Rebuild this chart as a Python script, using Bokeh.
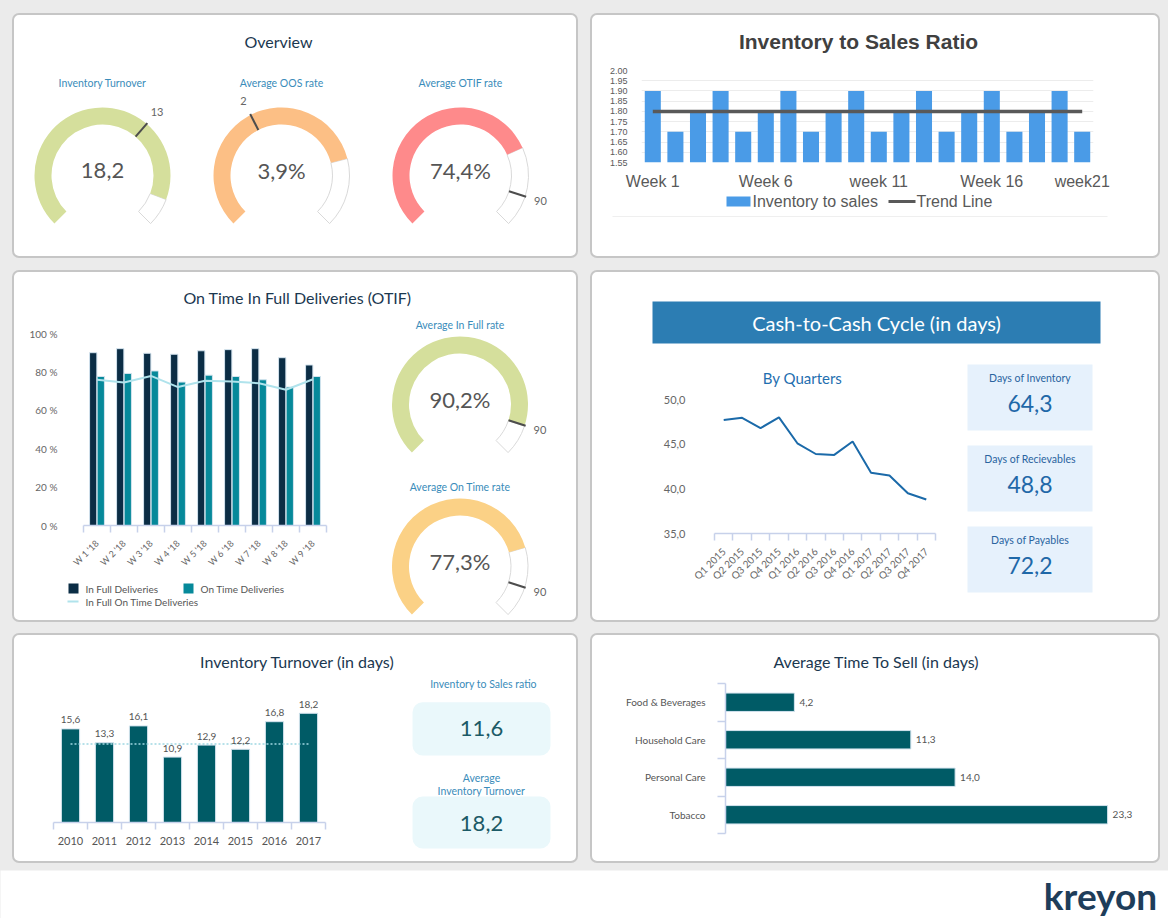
import math
from bokeh.plotting import figure
from bokeh.models import (Range1d, FactorRange, LinearAxis, CategoricalAxis, FixedTicker,
                          ColumnDataSource, Spacer, LabelSet, Grid,
                          NumeralTickFormatter, CustomJSTickFormatter, GlobalInlineStyleSheet)
from bokeh.layouts import row, column
from bokeh.transform import dodge
from bokeh.core.properties import value
from bokeh.embed import file_html
from bokeh.resources import INLINE

# ---------------- data ----------------
overview_titles = ["Inventory Turnover", "Average OOS rate", "Average OTIF rate"]
overview_values = [18.2, 3.9, 74.4]
overview_suffix = ["", "%", "%"]
overview_targets = [13, 2, 90]
overview_max = [20, 5, 100]

weeks = ["Week 1", "Week 2", "Week 3", "Week 4", "Week 5", "Week 6", "Week 7", "Week 8",
         "Week 9", "Week 10", "Week 11", "Week 12", "Week 13", "Week 14", "Week 15",
         "Week 16", "Week 17", "Week 18", "Week 19", "Week 20"]
ratio_values = [1.90, 1.70, 1.80, 1.90, 1.70, 1.80, 1.90, 1.70, 1.80, 1.90,
                1.70, 1.80, 1.90, 1.70, 1.80, 1.90, 1.70, 1.80, 1.90, 1.70]
ratio_trend = [1.80, 1.80, 1.80, 1.80, 1.80, 1.80, 1.80, 1.80, 1.80, 1.80,
               1.80, 1.80, 1.80, 1.80, 1.80, 1.80, 1.80, 1.80, 1.80, 1.80]
ratio_ticks = [1.55, 1.60, 1.65, 1.70, 1.75, 1.80, 1.85, 1.90, 1.95, 2.00]
week_shown_keys = ["Week 1", "Week 6", "Week 11", "Week 16", "Week 20"]
week_shown_labels = ["Week 1", "Week 6", "week 11", "Week 16", "week21"]

otif_weeks = ["W 1 '18", "W 2 '18", "W 3 '18", "W 4 '18", "W 5 '18",
              "W 6 '18", "W 7 '18", "W 8 '18", "W 9 '18"]
in_full = [90.0, 92.1, 89.7, 89.2, 91.0, 91.6, 92.1, 87.4, 83.6]
on_time = [77.6, 79.2, 80.5, 74.7, 78.3, 77.6, 75.9, 72.1, 77.6]
in_full_on_time = [75.9, 74.5, 77.9, 72.1, 75.4, 75.0, 74.1, 70.7, 76.2]
otif_ticks = [0, 20, 40, 60, 80, 100]
otif_gauge_titles = ["Average In Full rate", "Average On Time rate"]
otif_gauge_values = [90.2, 77.3]
otif_gauge_targets = [90, 90]

quarters = ["Q1 2015", "Q2 2015", "Q3 2015", "Q4 2015", "Q1 2016", "Q2 2016",
            "Q3 2016", "Q4 2016", "Q1 2017", "Q2 2017", "Q3 2017", "Q4 2017"]
c2c_days = [47.7, 47.95, 46.8, 48.0, 45.1, 43.9, 43.8, 45.3, 41.8, 41.5, 39.5, 38.8]
c2c_ticks = [35, 40, 45, 50]
kpi_labels = ["Days of Inventory", "Days of Recievables", "Days of Payables"]
kpi_values = [64.3, 48.8, 72.2]

years = ["2010", "2011", "2012", "2013", "2014", "2015", "2016", "2017"]
turnover = [15.6, 13.3, 16.1, 10.9, 12.9, 12.2, 16.8, 18.2]
turnover_ref = 13.1
side_kpi_values = [11.6, 18.2]

sell_categories = ["Food & Beverages", "Household Care", "Personal Care", "Tobacco"]
sell_days = [4.2, 11.3, 14.0, 23.3]

# ---------------- style ----------------
LATO = "Lato"
ARIAL = "Liberation Sans"
NAVY = "#1b3850"
GT = "#3a8cba"
AXIS_BLUE = "#c7d1ea"
TEAL = "#005b66"
BAR_EDGE = "#d3e3ee"
BLUE_BAR = "#4a9be7"
TREND = "#595959"
IN_FULL_C = "#0b2d45"
ON_TIME_C = "#06899a"
BOTH_C = "#b0e3ec"
PANEL = {"background-color": "white", "border": "2px solid #c6c6c6",
         "border-radius": "7px", "overflow": "hidden"}


def fmt(v, dec=1):
    return f"{v:.{dec}f}".replace(".", ",")


def wrap(f):
    # own container, so that Bokeh does not align plot frames across siblings
    return column(f)


class Pix:
    def __init__(self, w, h, bg=None):
        self.h = h
        self.p = figure(width=w, height=h, x_range=Range1d(0, w), y_range=Range1d(0, h),
                        x_axis_type=None, y_axis_type=None, output_backend="svg",
                        toolbar_location=None, min_border=0)
        self.p.outline_line_color = None
        self.p.background_fill_color = bg
        self.p.border_fill_color = bg

    def Y(self, y):
        return self.h - y

    def text(self, x, y, s, size, color, font=LATO, align="center", style="normal",
             baseline="middle"):
        self.p.text(x=[x], y=[self.Y(y)], text=[s], text_font=value(font),
                    text_font_size=f"{size}px", text_color=color, text_align=align,
                    text_baseline=baseline, text_font_style=style)

    def box(self, x0, x1, y0, y1, color, radius=0):
        kw = {"border_radius": radius} if radius else {}
        self.p.quad(left=[x0], right=[x1], top=[self.Y(y0)], bottom=[self.Y(y1)],
                    fill_color=color, line_color=None, **kw)

    def hline(self, x0, x1, y, color, width):
        self.p.segment(x0=[x0], y0=[self.Y(y)], x1=[x1], y1=[self.Y(y)], line_color=color,
                       line_width=width)


def chart(w, h, x_range, y_range, left, right, top, bottom):
    p = figure(width=w, height=h, x_range=x_range, y_range=y_range, x_axis_type=None,
               y_axis_type=None, output_backend="svg", toolbar_location=None,
               min_border_left=left, min_border_right=right, min_border_top=top,
               min_border_bottom=bottom)
    p.outline_line_color = None
    p.background_fill_color = None
    p.border_fill_color = None
    return p


def boundary_axis(n, tick_out):
    # ticks on the category boundaries (synthetic coordinates 0..n of the factor range)
    return LinearAxis(ticker=FixedTicker(ticks=list(range(n + 1))), axis_line_color=AXIS_BLUE,
                      axis_line_width=1.5, major_tick_line_color=AXIS_BLUE,
                      major_tick_line_width=1.5, major_tick_in=0, major_tick_out=tick_out,
                      minor_tick_line_color=None,
                      formatter=CustomJSTickFormatter(code="return '';"),
                      major_label_text_font_size="1px", major_label_standoff=0)


def cat_axis(size, standoff, orientation="horizontal", color="#666666"):
    return CategoricalAxis(axis_line_color=None, major_tick_line_color=None,
                           minor_tick_line_color=None, major_label_orientation=orientation,
                           major_label_text_font=LATO, major_label_text_font_size=f"{size}px",
                           major_label_text_color=color, major_label_standoff=standoff)


R_OUT, R_IN, R_LBL = 68, 51, 84


def gauge(c, cx, cy, val, tgt, vmax, color, val_text, tgt_text, title, title_y, val_y):
    y = c.Y(cy)
    a0 = math.radians(225)
    a1 = math.radians(-45)
    av = a0 - math.radians(270) * val / vmax
    at = a0 - math.radians(270) * tgt / vmax
    c.p.annular_wedge(x=[cx], y=[y], inner_radius=R_IN, outer_radius=R_OUT, start_angle=a1,
                      end_angle=av, direction="anticlock", fill_color="white",
                      line_color="#d9d9d9", line_width=1)
    c.p.annular_wedge(x=[cx], y=[y], inner_radius=R_IN, outer_radius=R_OUT, start_angle=av,
                      end_angle=a0, direction="anticlock", fill_color=color, line_color=None)
    c.p.segment(x0=[cx + R_IN * math.cos(at)], y0=[y + R_IN * math.sin(at)],
                x1=[cx + (R_OUT + 1) * math.cos(at)], y1=[y + (R_OUT + 1) * math.sin(at)],
                line_color="#4d4d4d", line_width=2)
    c.p.text(x=[cx + R_LBL * math.cos(at)], y=[y + R_LBL * math.sin(at)], text=[tgt_text],
             text_font=value(LATO), text_font_size="11px", text_color="#666666",
             text_align="center", text_baseline="middle")
    c.text(cx, val_y, val_text, 22, "#555555")
    c.text(cx, title_y, title, 10.5, GT)


# ---------------- Panel A: Overview ----------------
cA = Pix(562, 241)
cA.text(264, 26, "Overview", 16, NAVY)
overview_colors = ["#d5df9c", "#fcbf85", "#fe8a8b"]
for i, gx in enumerate([88, 267, 446]):
    gauge(cA, gx, 160, overview_values[i], overview_targets[i], overview_max[i],
          overview_colors[i], fmt(overview_values[i]) + overview_suffix[i],
          str(overview_targets[i]), overview_titles[i], 67, 155)
panelA = column(wrap(cA.p), styles=PANEL)

# ---------------- Panel B: Inventory to Sales Ratio ----------------
sB = Pix(566, 45)
sB.text(266, 26, "Inventory to Sales Ratio", 21, "#404040", font=ARIAL, style="bold")
pB = chart(566, 132, FactorRange(factors=weeks), Range1d(ratio_ticks[0], ratio_ticks[-1]),
           49, 65, 10, 30)
pB.vbar(x=weeks, top=ratio_values, bottom=ratio_ticks[0], width=0.71,
        fill_color=BLUE_BAR, line_color=None)
pB.line(x=weeks, y=ratio_trend, line_color=TREND, line_width=3.5)
yB = LinearAxis(ticker=FixedTicker(ticks=ratio_ticks), formatter=NumeralTickFormatter(format="0.00"),
                axis_line_color=None, major_tick_line_color=None, minor_tick_line_color=None,
                major_label_text_font=ARIAL, major_label_text_font_size="9px",
                major_label_text_color="#595959", major_label_standoff=8)
pB.add_layout(yB, "left")
pB.add_layout(Grid(dimension=1, ticker=FixedTicker(ticks=ratio_ticks), grid_line_color="#ececec"))
week_formatter = CustomJSTickFormatter(
    args=dict(keys=week_shown_keys, labels=week_shown_labels),
    code="const i = keys.indexOf(tick); return i >= 0 ? labels[i] : '';")
xB = CategoricalAxis(axis_line_color=None, major_tick_line_color=None, minor_tick_line_color=None,
                     major_label_text_font=ARIAL, major_label_text_font_size="16px",
                     major_label_text_color="#595959", major_label_standoff=4,
                     formatter=week_formatter)
pB.add_layout(xB, "below")
lB = Pix(566, 64)
lB.box(134, 158, 4, 14, BLUE_BAR)
lB.text(160, 9, "Inventory to sales", 16, "#595959", font=ARIAL, align="left")
lB.hline(296, 323, 9, TREND, 3)
lB.text(324, 9, "Trend Line", 16, "#595959", font=ARIAL, align="left")
lB.hline(20, 515, 24, "#efefef", 1)
panelB = column(wrap(sB.p), wrap(pB), wrap(lB.p), styles=PANEL)

# ---------------- Panel C: OTIF ----------------
sC = Pix(562, 40)
sC.text(283, 25, "On Time In Full Deliveries (OTIF)", 16, NAVY)
srcC = ColumnDataSource(dict(week=otif_weeks, full=in_full, ontime=on_time, both=in_full_on_time))
pC = chart(370, 262, FactorRange(factors=otif_weeks), Range1d(otif_ticks[0], otif_ticks[-1]),
           69, 58, 21, 48)
pC.vbar(x=dodge("week", -0.14, range=pC.x_range), top="full", width=0.27, source=srcC,
        fill_color=IN_FULL_C, line_color=BAR_EDGE, line_width=1)
pC.vbar(x=dodge("week", 0.14, range=pC.x_range), top="ontime", width=0.27, source=srcC,
        fill_color=ON_TIME_C, line_color=BAR_EDGE, line_width=1)
pC.line(x="week", y="both", source=srcC, line_color=BOTH_C, line_width=2)
yC = LinearAxis(ticker=FixedTicker(ticks=otif_ticks),
                formatter=CustomJSTickFormatter(code="return tick + ' %';"),
                axis_line_color=None, major_tick_line_color=None, minor_tick_line_color=None,
                major_label_text_font=LATO, major_label_text_font_size="10px",
                major_label_text_color="#666666", major_label_standoff=20)
pC.add_layout(yC, "left")
pC.add_layout(boundary_axis(len(otif_weeks), 7), "below")
pC.add_layout(cat_axis(9, 3, math.pi / 4), "below")
lC = Pix(370, 46)
lC.box(54, 64, 9, 19, IN_FULL_C)
lC.text(71, 14, "In Full Deliveries", 10, "#555555", align="left")
lC.box(169, 179, 9, 19, ON_TIME_C)
lC.text(186, 14, "On Time Deliveries", 10, "#555555", align="left")
lC.hline(53, 64, 27, BOTH_C, 2)
lC.text(71, 27, "In Full On Time Deliveries", 10, "#555555", align="left")
gC = Pix(192, 308)
otif_colors = ["#d5df9c", "#fbd186"]
for i, (gy, ty, vy) in enumerate([(92, 12.7, 87), (254, 174.3, 248.7)]):
    gauge(gC, 75.5, gy, otif_gauge_values[i], otif_gauge_targets[i], 100, otif_colors[i],
          fmt(otif_gauge_values[i]) + "%", str(otif_gauge_targets[i]), otif_gauge_titles[i], ty, vy)
panelC = column(wrap(sC.p), row(column(wrap(pC), wrap(lC.p)), wrap(gC.p)), styles=PANEL)

# ---------------- Panel D: Cash-to-Cash ----------------
sD = Pix(566, 88)
sD.box(60, 508, 29, 71, "#2c7db3")
sD.text(284, 50, "Cash-to-Cash Cycle (in days)", 20, "white")
qD = Pix(358, 28)
qD.text(210, 17, "By Quarters", 15, "#1f6fb0")
pD = chart(358, 232, FactorRange(factors=quarters), Range1d(c2c_ticks[0], c2c_ticks[-1]),
           122, 15, 11, 87)
pD.line(x=quarters, y=c2c_days, line_color="#1b6aa9", line_width=2)
yD = LinearAxis(ticker=FixedTicker(ticks=c2c_ticks),
                formatter=CustomJSTickFormatter(code="return tick.toFixed(1).replace('.', ',');"),
                axis_line_color=None, major_tick_line_color=None, minor_tick_line_color=None,
                major_label_text_font=LATO, major_label_text_font_size="11px",
                major_label_text_color="#666666", major_label_standoff=23)
pD.add_layout(yD, "left")
pD.add_layout(boundary_axis(len(quarters), 7), "below")
pD.add_layout(cat_axis(10, 3, math.pi / 4), "below")
kD = Pix(208, 260)
for i, (b0, b1) in enumerate([(4, 70), (85, 151), (166, 232)]):
    kD.box(17, 142, b0, b1, "#e6f1fc")
    kD.text(79.5, b0 + 13, kpi_labels[i], 10.5, "#2a64a0")
    kD.text(79.5, b0 + 39, fmt(kpi_values[i]), 23, "#1f68a8")
panelD = column(wrap(sD.p), row(column(wrap(qD.p), wrap(pD)), wrap(kD.p)), styles=PANEL)

# ---------------- Panel E: Inventory Turnover ----------------
sE = Pix(562, 40)
sE.text(283, 26, "Inventory Turnover (in days)", 16, NAVY)
srcE = ColumnDataSource(dict(year=years, val=turnover, label=[fmt(v) for v in turnover],
                             ref=[turnover_ref] * len(years)))
pE = chart(376, 186, FactorRange(factors=years), Range1d(0, 22), 39, 65, 15, 39)
pE.vbar(x="year", top="val", width=0.535, source=srcE, fill_color=TEAL, line_color=BAR_EDGE)
pE.line(x="year", y="ref", source=srcE, line_color="#9fd7e2", line_width=1.5, line_dash="2 2")
pE.add_layout(LabelSet(x="year", y="val", text="label", source=srcE, y_offset=9,
                       text_align="center", text_baseline="middle", text_font=value(LATO),
                       text_font_size="10px", text_color="#555555"))
pE.add_layout(boundary_axis(len(years), 7), "below")
pE.add_layout(cat_axis(11, 1, "horizontal", "#555555"), "below")
kE = Pix(186, 186)
kE.text(93, 8, "Inventory to Sales ratio", 10.5, GT)
kE.box(22, 160, 26.7, 80, "#eaf8fb", radius=10)
kE.text(91, 53, fmt(side_kpi_values[0]), 22, "#1b5a66")
kE.text(91, 102, "Average", 10.5, GT)
kE.text(91, 115, "Inventory Turnover", 10.5, GT)
kE.box(22, 160, 121, 173, "#eaf8fb", radius=10)
kE.text(91, 148, fmt(side_kpi_values[1]), 22, "#1b5a66")
panelE = column(wrap(sE.p), row(wrap(pE), wrap(kE.p)), styles=PANEL)

# ---------------- Panel F: Average Time To Sell ----------------
sF = Pix(566, 40)
sF.text(284, 26, "Average Time To Sell (in days)", 16, NAVY)
srcF = ColumnDataSource(dict(cat=sell_categories, days=sell_days,
                             label=[fmt(v) for v in sell_days]))
pF = chart(566, 186, Range1d(0, 25), FactorRange(factors=sell_categories[::-1]), 133, 23, 8, 28)
pF.hbar(y="cat", right="days", height=0.49, source=srcF, fill_color=TEAL, line_color=BAR_EDGE)
pF.add_layout(LabelSet(x="days", y="cat", text="label", source=srcF, x_offset=5,
                       text_align="left", text_baseline="middle", text_font=value(LATO),
                       text_font_size="10px", text_color="#555555"))
pF.add_layout(boundary_axis(len(sell_categories), 8), "left")
pF.add_layout(cat_axis(10, 6, "horizontal", "#555555"), "left")
panelF = column(wrap(sF.p), wrap(pF), styles=PANEL)

# ---------------- Footer ----------------
ft = Pix(1168, 48, bg="white")
ft.text(1100, 25, "kreyon", 37, "#1e3d5a", style="bold")

root = column(
    Spacer(height=13),
    row(Spacer(width=12), panelA, Spacer(width=12), panelB, Spacer(width=8)),
    Spacer(height=12),
    row(Spacer(width=12), panelC, Spacer(width=12), panelD, Spacer(width=8)),
    Spacer(height=11),
    row(Spacer(width=12), panelE, Spacer(width=12), panelF, Spacer(width=8)),
    Spacer(height=7),
    ft.p,
    styles={"background-color": "#ebebeb"},
    stylesheets=[GlobalInlineStyleSheet(css="html, body { margin: 0; padding: 0; }")],
)

open("out.html", "w").write(file_html(root, INLINE))
